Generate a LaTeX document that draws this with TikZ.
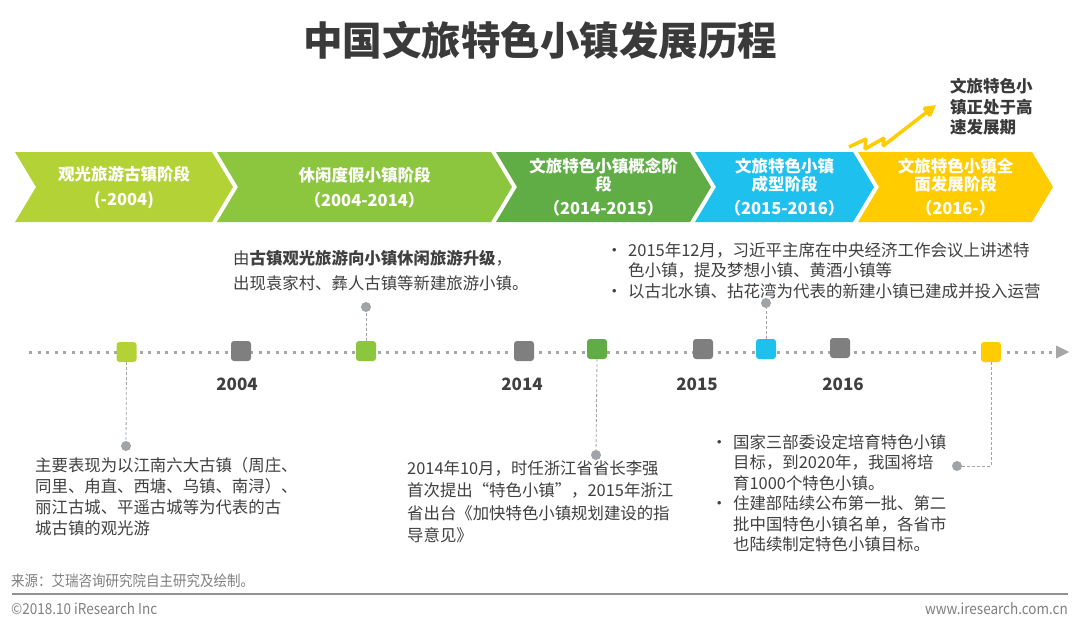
\documentclass[tikz,border=0pt]{standalone}
\usepackage{fontspec}
\setmainfont{Noto Sans CJK SC}
\usetikzlibrary{arrows.meta}
\definecolor{cA}{HTML}{B3D235}
\definecolor{cB}{HTML}{8CC63F}
\definecolor{cC}{HTML}{60AD46}
\definecolor{cD}{HTML}{1EC0EE}
\definecolor{cE}{HTML}{FFCC00}
\definecolor{mgray}{HTML}{7F7F7F}
\definecolor{dotgray}{HTML}{A6A6A6}
\definecolor{txt}{HTML}{404040}
\definecolor{ttl}{HTML}{3A3A3A}
\definecolor{pin}{HTML}{A0A4A8}
\newcommand{\mychev}[3]{\fill[#3] (#1,152) -- (#2,152) -- ({#2+21},187) -- (#2,222) -- (#1,222) -- ({#1+21},187) -- cycle;}
\begin{document}
\begin{tikzpicture}[x=1pt,y=-1pt,
  chevtext/.style={text=white, font=\fontsize{16.5}{18}\selectfont\bfseries, align=center, inner sep=0pt},
  marker/.style={rectangle, rounded corners=3pt, minimum size=20pt, inner sep=0pt},
  pindot/.style={circle, fill=pin, minimum size=10pt, inner sep=0pt},
  pinline/.style={draw=pin, line width=0.8pt, dash pattern=on 3pt off 2pt},
  yearlbl/.style={text=txt, font=\fontsize{17}{17}\selectfont\bfseries, inner sep=0pt},
  body/.style={text=txt, align=left, inner sep=0pt, anchor=north west},
  foot/.style={text=mgray, inner sep=0pt, font=\fontsize{15}{15}\selectfont}]
\useasboundingbox (0,0) rectangle (1080,626);
\fill[white] (0,0) rectangle (1080,626);

% title
\node[text=ttl, font=\fontsize{39.5}{40}\selectfont\bfseries, inner sep=0pt] (title) at (540,40) {中国文旅特色小镇发展历程};

% chevrons
\mychev{15}{212}{cA}
\mychev{217}{491}{cB}
\mychev{496}{690}{cC}
\mychev{695}{853}{cD}
\mychev{858}{1032}{cE}

\node[chevtext] (s1) at (124,187.5) {观光旅游古镇阶段\\[7pt](-2004)};
\node[chevtext] (s2) at (364.5,187.5) {休闲度假小镇阶段\\[7pt]（2004-2014）};
\node[chevtext] (s3) at (603.5,187) {文旅特色小镇概念阶\\段\\[6pt]（2014-2015）};
\node[chevtext] (s4) at (784.5,187) {文旅特色小镇\\成型阶段\\[6pt]（2015-2016）};
\node[chevtext] (s5) at (955.5,187) {文旅特色小镇全\\面发展阶段\\[6pt]（2016-）};

% rising arrow and note
\coordinate (z0) at (849,147);
\coordinate (z1) at (866,139);
\coordinate (z2) at (865,149);
\coordinate (z3) at (884,138);
\coordinate (z4) at (883,146);
\coordinate (z5) at (936,105);
\draw[cE, line width=3.5pt, miter limit=2, -{Triangle[length=13pt,width=14pt]}] (z0) -- (z1) -- (z2) -- (z3) -- (z4) -- (z5);
\node[body, text=ttl, font=\fontsize{16.5}{20.5}\selectfont\bfseries] (note) at (950,78) {文旅特色小\\镇正处于高\\速发展期};

% timeline
\coordinate (tl0) at (29,352);
\coordinate (tl1) at (1054,352);
\draw[dotgray, line width=3pt, dash pattern=on 3pt off 5.5pt] (tl0) -- (tl1);
\fill[dotgray] (1056,345.5) -- (1069,352) -- (1056,358.5) -- cycle;

\node[marker, fill=cA] (m1) at (126.5,352) {};
\node[marker, fill=mgray] (m2) at (241,351) {};
\node[marker, fill=cB] (m3) at (366,351) {};
\node[marker, fill=mgray] (m4) at (524,351) {};
\node[marker, fill=cC] (m5) at (597,349) {};
\node[marker, fill=mgray] (m6) at (703,349) {};
\node[marker, fill=cD] (m7) at (766,349) {};
\node[marker, fill=mgray] (m8) at (840,348) {};
\node[marker, fill=cE] (m9) at (991,352) {};

\node[yearlbl] (y1) at (237,384) {2004};
\node[yearlbl] (y2) at (522,384) {2014};
\node[yearlbl] (y3) at (697,384) {2015};
\node[yearlbl] (y4) at (843,384) {2016};

% pins
\node[pindot] (d1) at (126,446) {};
\node[pindot] (d2) at (366,307) {};
\node[pindot] (d3) at (596,455) {};
\node[pindot] (d4) at (766,303) {};
\node[pindot] (d5) at (957,466) {};
\draw[pinline] (m1.south) -- (d1);
\draw[pinline] (m3.north) -- (d2);
\draw[pinline] (m5.south) -- (d3);
\draw[pinline] (m7.north) -- (d4);
\draw[pinline] (m9.south) |- (d5);

% text blocks
\node[body, font=\fontsize{16.4}{25}\selectfont] (tA) at (233,250) {由\textbf{古镇观光旅游向小镇休闲旅游升级}，\\出现袁家村、彝人古镇等新建旅游小镇。};
\node[body, font=\fontsize{16.5}{20.5}\selectfont] (tB) at (606,242) {\makebox[22pt][l]{•}2015年12月，习近平主席在中央经济工作会议上讲述特\\\hspace*{22pt}色小镇，提及梦想小镇、黄酒小镇等\\\makebox[22pt][l]{•}以古北水镇、拈花湾为代表的新建小镇已建成并投入运营};
\node[body, font=\fontsize{16.4}{21}\selectfont] (tC) at (35,457) {主要表现为以江南六大古镇（周庄、\\同里、甪直、西塘、乌镇、南浔）、\\丽江古城、平遥古城等为代表的古\\城古镇的观光游};
\node[body, font=\fontsize{16.4}{22.5}\selectfont] (tD) at (407,460) {2014年10月，时任浙江省省长李强\\首次提出“特色小镇”，2015年浙江\\省出台《加快特色小镇规划建设的指\\导意见》};
\node[body, font=\fontsize{16.4}{20.5}\selectfont] (tE) at (711,434) {\makebox[22pt][l]{•}国家三部委设定培育特色小镇\\\hspace*{22pt}目标，到2020年，我国将培\\\hspace*{22pt}育1000个特色小镇。\\\makebox[22pt][l]{•}住建部陆续公布第一批、第二\\\hspace*{22pt}批中国特色小镇名单，各省市\\\hspace*{22pt}也陆续制定特色小镇目标。};

% footer
\node[foot, anchor=west] (src) at (11,581) {\scalebox{0.9}[1]{来源：艾瑞咨询研究院自主研究及绘制。}};
\coordinate (f0) at (12,594);
\coordinate (f1) at (1068,594);
\draw[mgray!85, line width=1.6pt] (f0) -- (f1);
\node[foot, anchor=west] (copy) at (11,609) {\scalebox{0.9}[1]{©2018.10 iResearch Inc}};
\node[foot, anchor=east] (web) at (1068,609) {\scalebox{0.9}[1]{www.iresearch.com.cn}};
\end{tikzpicture}
\end{document}
